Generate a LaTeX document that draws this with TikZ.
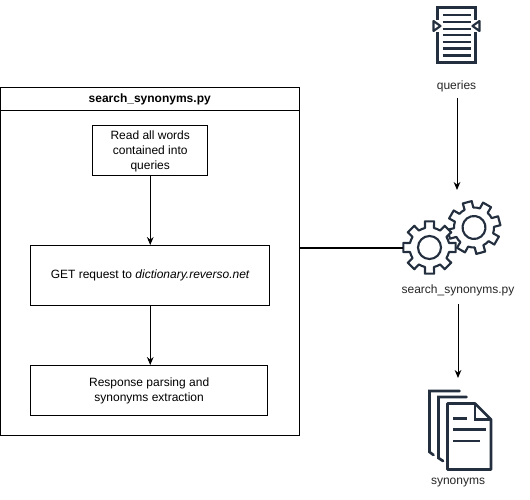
\documentclass[tikz,border=0pt]{standalone}
\usepackage{fontspec}
\setmainfont{Liberation Sans}
\usetikzlibrary{arrows.meta}
\definecolor{icon}{HTML}{232F3E}
\tikzset{
  bx/.style={draw=black,line width=0.75pt,fill=white,align=center,font=\fontsize{9}{11.25}\selectfont,inner sep=0pt,anchor=north west},
  lbl/.style={font=\fontsize{9}{11}\selectfont,text=black!85,inner sep=0pt},
  arr/.style={draw=black,line width=0.75pt,-{Stealth[length=6pt,width=5pt]}},
  ic/.style={draw=icon,line width=1.6pt,line join=miter},
  icl/.style={draw=icon,line width=1.7pt},
  pics/gearicon/.style={code={
    \draw[ic,fill=white,line join=round]
      (-22.5:20)
      \foreach \a in {0,45,...,315}{
        -- ({\a-13}:20) -- ({\a-10}:26.5) -- ({\a+10}:26.5) -- ({\a+13}:20) -- ({\a+22.5}:20)
      } -- cycle;
    \draw[ic] (0,0) circle (11.5);
  }}
}
\begin{document}
\begin{tikzpicture}[x=0.75pt,y=-0.75pt]
\useasboundingbox (0,0) rectangle (530,499);
% left panel
\node[bx,minimum width=224.6pt,minimum height=261pt] (panel) at (-0.5,87) {};
\node[bx,minimum width=224.6pt,minimum height=17.25pt,font=\fontsize{9}{11}\selectfont\bfseries] (title) at (-0.5,87) {search\_synonyms.py};
\node[bx,minimum width=86.6pt,minimum height=37.5pt] (read) at (92,125) {\rule{0pt}{8pt}Read all words\\contained into\\queries};
\node[bx,minimum width=179.6pt,minimum height=45pt] (get) at (30,245) {GET request to \textit{dictionary.reverso.net}};
\node[bx,minimum width=178pt,minimum height=37.5pt] (parse) at (30,365) {Response parsing and\\synonyms extraction};
\draw[arr] (read) -- (read |- get.north);
\draw[arr] (get.south -| read) -- (read |- parse.north);
% queries icon
\coordinate (qc) at (456.5,35);
\draw[ic] (437.5,20) -- (437.5,7.5) -- (475.5,7.5) -- (475.5,20);
\draw[ic] (437.5,32) -- (437.5,62.5) -- (475.5,62.5) -- (475.5,32);
\draw[ic,line join=round] (433.5,21) -- (440.5,26) -- (433.5,31) -- cycle;
\draw[ic,line join=round] (479.5,21) -- (472.5,26) -- (479.5,31) -- cycle;
\foreach \y in {15,22,29,35,42,48.5,55.5}{\draw[icl] (442.5,\y) -- (471,\y);}
\node[lbl] (queries) at (456.5,86) {queries};
% gears
\pic[rotate=15] at (474,227.5) {gearicon};
\pic at (429.5,247.5) {gearicon};
\coordinate (gearw) at (403,247.5);
\coordinate (geart) at (457,190);
\node[lbl] (searchlbl) at (458,290) {search\_synonyms.py};
\coordinate (qs) at (457,98);
\draw[arr] (qs) -- (geart);
\draw[draw=black,line width=1.5pt] (panel.east |- gearw) -- (gearw);
% synonyms icon
\draw[ic,line cap=round,line width=2pt] (459.5,391) -- (429.5,391) -- (429.5,452) -- (433.5,455);
\draw[ic,line cap=round,line width=2pt] (466.5,397) -- (438.5,397) -- (438.5,458) -- (443,461);
\draw[ic,line width=2pt,line join=round] (447.5,403.5) -- (475,403.5) -- (491,419.5) -- (491,469.5) -- (447.5,469.5) -- cycle;
\draw[ic] (475,403.5) -- (475,419.5) -- (491,419.5);
\draw[icl] (453,418.5) -- (467,418.5);
\draw[icl] (453,429.5) -- (486,429.5);
\draw[icl] (453,441) -- (480,441);
\coordinate (syntop) at (458,378);
\coordinate (ss) at (458,304);
\node[lbl] (synonyms) at (458,483) {synonyms};
\draw[arr] (ss) -- (syntop);
\end{tikzpicture}
\end{document}
